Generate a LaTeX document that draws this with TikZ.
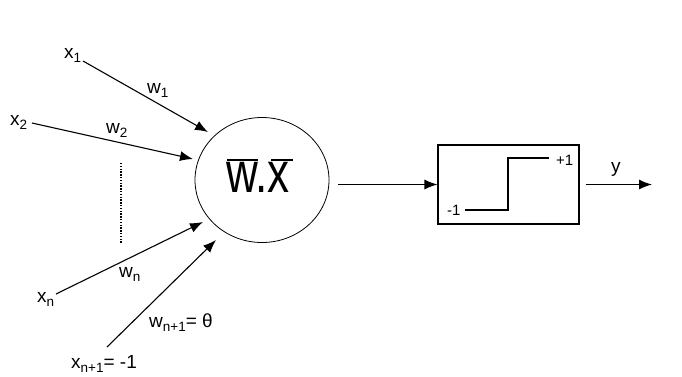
\documentclass[tikz,border=0pt]{standalone}
\usepackage{fontspec}
\setmainfont{Liberation Sans}
\usetikzlibrary{arrows.meta,shapes.geometric}
\newcommand{\sbs}[1]{\raisebox{-0.45ex}{\fontsize{13.5}{13.5}\selectfont #1}}
\begin{document}
\begin{tikzpicture}[x=1pt,y=-1pt,
  lbl/.style={anchor=base west, inner sep=0pt, font=\fontsize{19}{19}\selectfont},
  small/.style={anchor=base west, inner sep=0pt, font=\fontsize{15}{15}\selectfont},
  arr/.style={line width=1.1pt, -{Latex[length=13pt,width=10pt]}}]
\useasboundingbox (0,0) rectangle (682,376);
% neuron
\node[draw, ellipse, minimum width=134pt, minimum height=125pt, line width=0.8pt, inner sep=0pt] (neuron) at (262,180) {};
\node[anchor=base west, inner sep=0pt] (wx) at (226,192) {\scalebox{1}[1.3]{\fontsize{44}{44}\selectfont w.x}};
\draw[line width=1.6pt] (227,160) -- (258,160);
\draw[line width=1.6pt] (271,160) -- (293,160);
% activation box
\node[draw, line width=1.1pt, minimum width=141pt, minimum height=79pt, inner sep=0pt] (act) at (508.5,184.5) {};
\draw[line width=1.6pt] (465,210) -- (508,210) -- (508,158) -- (549,158);
\node[small] (p1) at (556,165) {+1};
\node[small] (m1) at (447,215) {-1};
% labels
\node[lbl] (x1) at (64,58) {x\sbs{1}};
\node[lbl] (x2) at (10,125) {x\sbs{2}};
\node[lbl] (xn) at (37,302) {x\sbs{n}};
\node[lbl] (xn1) at (71,368) {x\sbs{n+1}= -1};
\node[lbl] (w1) at (147,93) {w\sbs{1}};
\node[lbl] (w2) at (106,133) {w\sbs{2}};
\node[lbl] (wn) at (119,277) {w\sbs{n}};
\node[lbl] (wn1) at (149,327) {w\sbs{n+1}= θ};
\node[lbl] (y) at (611,172) {y};
% connector endpoints
\coordinate (s1) at (83,61);
\coordinate (t1) at (208,132);
\coordinate (s2) at (32,123);
\coordinate (t2) at (193,159);
\coordinate (sn) at (56,294);
\coordinate (tn) at (203,222);
\coordinate (sn1) at (107,347);
\coordinate (tn1) at (216,240);
\coordinate (nout) at (338,184.5);
\coordinate (yend) at (652,184.5);
\coordinate (d1) at (121,163);
\coordinate (d2) at (121,243);
\draw[arr] (s1) -- (t1);
\draw[arr] (s2) -- (t2);
\draw[arr] (sn) -- (tn);
\draw[arr] (sn1) -- (tn1);
\draw[arr] (nout) -- (act.west);
\draw[arr] ([xshift=6pt]act.east) -- (yend);
\draw[line width=1.6pt, dash pattern=on 1.4pt off 1.4pt] (d1) -- (d2);
\end{tikzpicture}
\end{document}
